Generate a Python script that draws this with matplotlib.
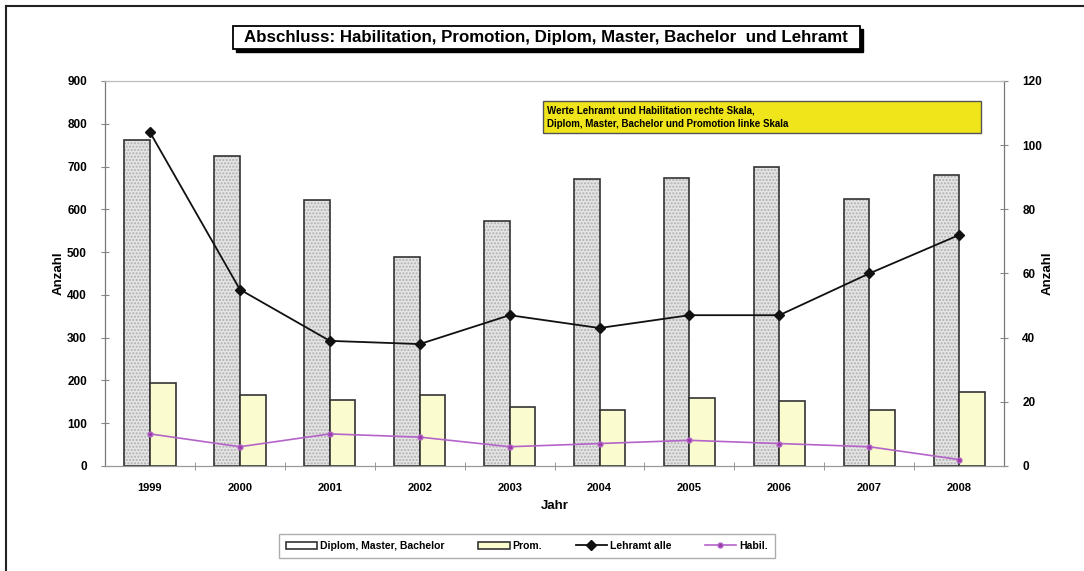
import numpy as np
import matplotlib.pyplot as plt
from matplotlib.patches import Rectangle

plt.rcParams['font.family'] = ['Liberation Sans', 'DejaVu Sans']
plt.rcParams['font.weight'] = 'bold'

jahre = ['1999', '2000', '2001', '2002', '2003', '2004', '2005', '2006', '2007', '2008']
diplom = [762, 725, 622, 488, 573, 670, 673, 698, 623, 680]
prom = [195, 167, 155, 165, 138, 132, 160, 153, 130, 172]
lehramt = [104, 55, 39, 38, 47, 43, 47, 47, 60, 72]
habil = [10, 6, 10, 9, 6, 7, 8, 7, 6, 2]

x = np.arange(len(jahre))
w = 0.285

fig = plt.figure(figsize=(10.84, 5.71), dpi=100)
ax = fig.add_axes([0.0969, 0.1839, 0.8294, 0.6743])
ax2 = ax.twinx()

# Balken: Diplom (gepunktet) und Promotion
ax.bar(x - w / 2, diplom, w, color='#e4e4e4', edgecolor='#b0b0b0', hatch='.....',
       linewidth=0, zorder=2)
b1 = ax.bar(x - w / 2, diplom, w, fill=False, edgecolor='#333333', linewidth=1.2,
            zorder=3, label='Diplom, Master, Bachelor')
b2 = ax.bar(x + w / 2, prom, w, color='#fbfbd0', edgecolor='#333333', linewidth=1.2,
            zorder=3, label='Prom.')

ax.set_xlim(-0.5, len(jahre) - 0.5)
ax.set_ylim(0, 900)
ax.set_yticks(range(0, 901, 100))
ax.set_xticks(x)
ax.set_xticklabels(jahre)
ax.set_xticks(x[:-1] + 0.5, minor=True)
ax.tick_params(axis='x', which='major', length=0, pad=12, labelsize=8)
ax.tick_params(axis='x', which='minor', length=6, direction='inout', color='#888888')
ax.tick_params(axis='y', length=6, direction='inout', color='#888888', labelsize=8.5, pad=10)
ax.set_ylabel('Anzahl', fontsize=9.5, fontweight='bold', labelpad=2)
ax.set_xlabel('Jahr', fontsize=9.5, fontweight='bold', labelpad=5)

# Linien auf der rechten Skala
l1, = ax2.plot(x, lehramt, color='#111111', marker='D', markersize=5, linewidth=1.3,
               label='Lehramt alle', zorder=5)
l2, = ax2.plot(x, habil, color='#b464c8', marker='o', markersize=3.5, linewidth=1.2,
               markerfacecolor='#9a3aa8', label='Habil.', zorder=5)
ax2.set_ylim(0, 120)
ax2.set_yticks(range(0, 121, 20))
ax2.tick_params(axis='y', length=6, direction='inout', color='#888888', labelsize=8.5, pad=10)
ax2.set_ylabel('Anzahl', fontsize=9.5, fontweight='bold', labelpad=0)

for a in (ax, ax2):
    a.spines['left'].set_color('#777777')
    a.spines['right'].set_color('#777777')
    a.spines['bottom'].set_color('#999999')
    a.spines['top'].set_color('#bbbbbb')

# Hinweisbox
ax2.add_patch(Rectangle((0.487, 0.865), 0.487, 0.082, transform=ax2.transAxes,
                        facecolor='#f0e41a', edgecolor='#555555', linewidth=1, zorder=6))
ax2.text(0.492, 0.906, 'Werte Lehramt und Habilitation rechte Skala,\n'
         'Diplom, Master, Bachelor und Promotion linke Skala',
         transform=ax2.transAxes, fontsize=7, fontweight='bold', va='center',
         linespacing=1.4, zorder=7)

# Titel mit Schattenrahmen
fig.patches.append(Rectangle((236 / 1084, 1 - 52 / 571), 627 / 1084, 23 / 571,
                             transform=fig.transFigure, facecolor='black',
                             edgecolor='black', zorder=0))
fig.patches.append(Rectangle((233 / 1084, 1 - 49 / 571), 627 / 1084, 23 / 571,
                             transform=fig.transFigure, facecolor='white',
                             edgecolor='black', linewidth=1.3, zorder=1))
fig.text(546 / 1084, 1 - 37.5 / 571, 'Abschluss: Habilitation, Promotion, Diplom, Master, Bachelor  und Lehramt',
         ha='center', va='center', fontsize=12.2, fontweight='bold', zorder=2)

# Rahmen oben und links
fig.add_artist(plt.Line2D([6 / 1084, 6 / 1084], [0, 1 - 6 / 571], color='#222222',
                          linewidth=1.5, transform=fig.transFigure))
fig.add_artist(plt.Line2D([6 / 1084, 1], [1 - 6 / 571, 1 - 6 / 571], color='#222222',
                          linewidth=1.5, transform=fig.transFigure))

leg = fig.legend([b1, b2, l1, l2], ['Diplom, Master, Bachelor', 'Prom.', 'Lehramt alle', 'Habil.'],
                 loc='center', bbox_to_anchor=(527 / 1084, 1 - 546 / 571), ncol=4,
                 fontsize=7.5, frameon=True, fancybox=False, edgecolor='#999999',
                 handlelength=3, columnspacing=3.2, handletextpad=0.3,
                 borderpad=0.7, borderaxespad=0)
leg.get_frame().set_linewidth(1)

fig.savefig('out.png', dpi=100)
